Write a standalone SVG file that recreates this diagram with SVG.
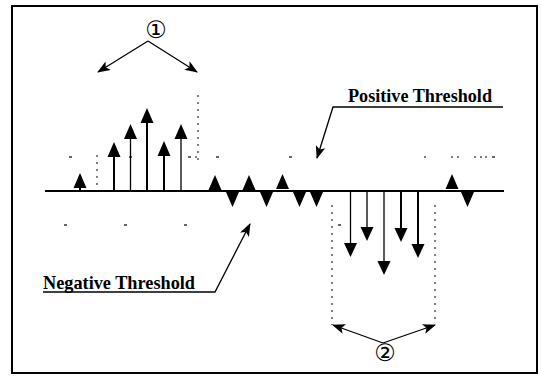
<svg xmlns="http://www.w3.org/2000/svg" width="541" height="377" viewBox="0 0 541 377">
<style>
.stem{stroke:#000;stroke-width:2;fill:none}
.thin{stroke:#000;stroke-width:1.3;fill:none}
.head{fill:#000}
.dot{stroke:#000;stroke-width:1;stroke-dasharray:2 5;fill:none}
.tick{stroke:#000;stroke-width:1.2}
.lbl{font-family:"Liberation Serif",serif;font-weight:bold;font-size:19px;fill:#000}
.num{font-family:"DejaVu Sans","Noto Sans CJK JP",sans-serif;font-size:24px;fill:#000}
</style>
<defs>
<marker id="ah" viewBox="0 0 13 10" refX="12" refY="5" markerWidth="13" markerHeight="10" markerUnits="userSpaceOnUse" orient="auto">
<path d="M0,0 L13,5 L0,10 L3,5 Z" fill="#000"/>
</marker>
</defs>
<rect x="12" y="6" width="525" height="367" fill="#fff" stroke="#000" stroke-width="2"/>
<g id="baseline"><line x1="45" y1="191" x2="504" y2="191" class="stem"/></g>
<g id="dotted-guides">
<line x1="97" y1="155" x2="97" y2="190" class="dot"/>
<line x1="198" y1="95" x2="198" y2="160" class="dot"/>
<line x1="332" y1="205" x2="332" y2="325" class="dot"/>
<line x1="435" y1="205" x2="435" y2="322" class="dot"/>
</g>
<g id="threshold-marks">
<line x1="69" y1="157" x2="72" y2="157" class="tick"/>
<line x1="129" y1="157" x2="132" y2="157" class="tick"/>
<line x1="188" y1="157" x2="191" y2="157" class="tick"/>
<line x1="195" y1="157" x2="197" y2="157" class="tick"/>
<line x1="216" y1="157" x2="219" y2="157" class="tick"/>
<line x1="289" y1="157" x2="292" y2="157" class="tick"/>
<line x1="424" y1="157" x2="426" y2="157" class="tick"/>
<line x1="451" y1="157" x2="453" y2="157" class="tick"/>
<line x1="457" y1="157" x2="459" y2="157" class="tick"/>
<line x1="474" y1="157" x2="476" y2="157" class="tick"/>
<line x1="480" y1="157" x2="482" y2="157" class="tick"/>
<line x1="485" y1="157" x2="487" y2="157" class="tick"/>
<line x1="492" y1="157" x2="495" y2="157" class="tick"/>
<line x1="64" y1="225" x2="67" y2="225" class="tick"/>
<line x1="124" y1="225" x2="127" y2="225" class="tick"/>
<line x1="184" y1="225" x2="187" y2="225" class="tick"/>
<line x1="338" y1="225" x2="341" y2="225" class="tick"/>
</g>
<g id="positive-pulses">
<line x1="80" y1="183" x2="80" y2="191" class="stem"/><polygon class="head" points="80,173 73.5,188 86.5,188"/>
<line x1="114" y1="152" x2="114" y2="191" class="stem"/><polygon class="head" points="114,142 107.5,157 120.5,157"/>
<line x1="130.5" y1="134" x2="130.5" y2="191" class="thin"/><polygon class="head" points="130.5,124 124,139 137,139"/>
<line x1="147" y1="118" x2="147" y2="191" class="stem"/><polygon class="head" points="147,108 140.5,123 153.5,123"/>
<line x1="164" y1="151" x2="164" y2="191" class="stem"/><polygon class="head" points="164,141 157.5,156 170.5,156"/>
<line x1="181" y1="134" x2="181" y2="191" class="thin"/><polygon class="head" points="181,124 174.5,139 187.5,139"/>
<polygon class="head" points="215,175 208.5,190 221.5,190"/>
<polygon class="head" points="249,175 242.5,190 255.5,190"/>
<polygon class="head" points="282.5,174 276,189 289,189"/>
<polygon class="head" points="452,174 445.5,189 458.5,189"/>
</g>
<g id="negative-pulses">
<polygon class="head" points="226,192 239,192 232.5,207"/>
<polygon class="head" points="260,192 273,192 266.5,207"/>
<polygon class="head" points="293,192 306,192 299.5,207"/>
<polygon class="head" points="310,192 323,192 316.5,207"/>
<polygon class="head" points="461,192 474,192 467.5,207"/>
<line x1="350.5" y1="191" x2="350.5" y2="248" class="thin"/><polygon class="head" points="344,243 357,243 350.5,257"/>
<line x1="367" y1="191" x2="367" y2="232" class="thin"/><polygon class="head" points="360.5,227 373.5,227 367,241"/>
<line x1="384" y1="191" x2="384" y2="265" class="thin"/><polygon class="head" points="377.5,261 390.5,261 384,275"/>
<line x1="401" y1="191" x2="401" y2="233" class="stem"/><polygon class="head" points="394.5,228 407.5,228 401,242"/>
<line x1="418" y1="191" x2="418" y2="249" class="stem"/><polygon class="head" points="411.5,244 424.5,244 418,258"/>
</g>
<g id="label-1">
<text x="156" y="38" class="num" text-anchor="middle">①</text>
</g>
<g id="label-2">
<text x="385" y="361" class="num" text-anchor="middle">②</text>
</g>
<g id="label-positive">
<text x="348" y="102" class="lbl" textLength="144" lengthAdjust="spacingAndGlyphs">Positive Threshold</text>
</g>
<g id="label-negative">
<text x="43" y="289" class="lbl" textLength="152" lengthAdjust="spacingAndGlyphs">Negative Threshold</text>
</g>
<g id="connectors">
<line x1="148" y1="41" x2="98" y2="72" class="thin" marker-end="url(#ah)"/>
<line x1="148" y1="41" x2="197" y2="72" class="thin" marker-end="url(#ah)"/>
<polyline points="503,107 333,107 317,158" class="thin" marker-end="url(#ah)"/>
<polyline points="43,292 215,292 250,224" class="thin" marker-end="url(#ah)"/>
<line x1="383" y1="343" x2="333" y2="325" class="thin" marker-end="url(#ah)"/>
<line x1="383" y1="343" x2="435" y2="325" class="thin" marker-end="url(#ah)"/>
</g>
</svg>
